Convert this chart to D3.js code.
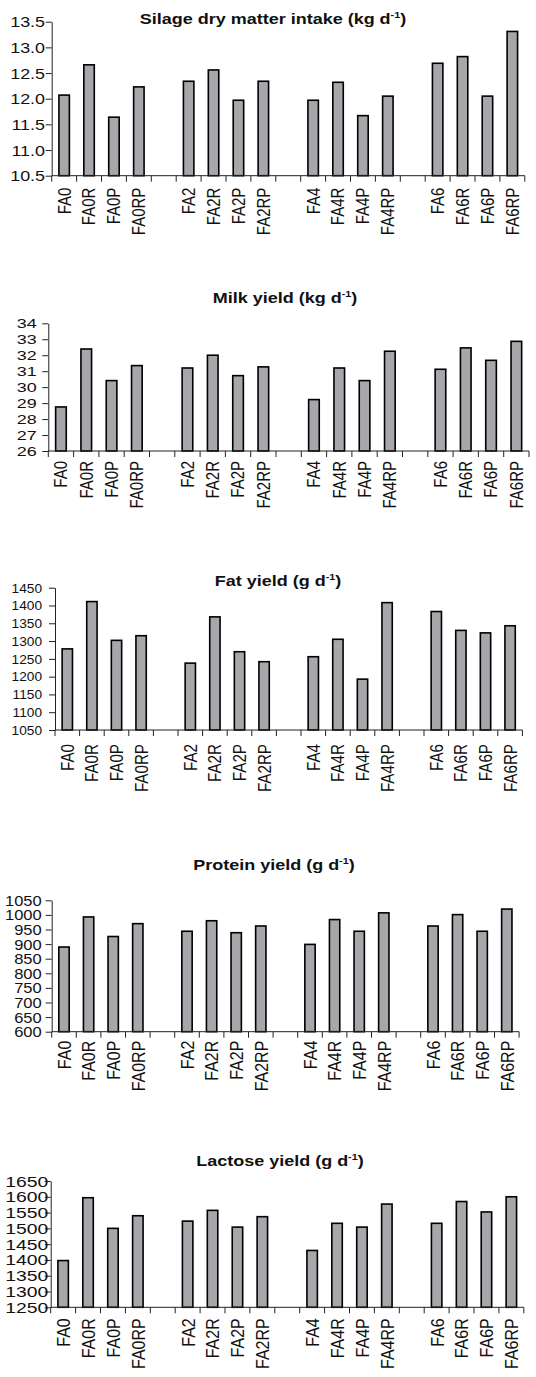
<!DOCTYPE html>
<html>
<head>
<meta charset="utf-8">
<script src="https://cdn.jsdelivr.net/npm/d3@7"></script>
<style>
  body { margin: 0; background: #fff; }
  svg { display: block; }
  text { font-family: "Liberation Sans", Arial, sans-serif; fill: #111; }
</style>
</head>
<body>
<svg id="chart" width="536" height="1377"></svg>
<script>
var categories = ["FA0", "FA0R", "FA0P", "FA0RP", "FA2", "FA2R", "FA2P", "FA2RP",
                  "FA4", "FA4R", "FA4P", "FA4RP", "FA6", "FA6R", "FA6P", "FA6RP"];

var silageIntake = [12.07, 12.66, 11.64, 12.23, 12.34, 12.56, 11.97, 12.34, 11.97, 12.32, 11.67, 12.05, 12.69, 12.82, 12.05, 13.31];
var silageTicks = [10.5, 11.0, 11.5, 12.0, 12.5, 13.0, 13.5];

var milkYield = [28.76, 32.39, 30.41, 31.35, 31.2, 32.0, 30.72, 31.27, 29.22, 31.2, 30.41, 32.25, 31.12, 32.46, 31.68, 32.87];
var milkTicks = [26, 27, 28, 29, 30, 31, 32, 33, 34];

var fatYield = [1278, 1411, 1302, 1315, 1238, 1368, 1270, 1242, 1256, 1305, 1193, 1408, 1383, 1330, 1323, 1343];
var fatTicks = [1050, 1100, 1150, 1200, 1250, 1300, 1350, 1400, 1450];

var proteinYield = [890, 993, 926, 970, 944, 980, 939, 962, 899, 984, 944, 1007, 962, 1001, 944, 1020];
var proteinTicks = [600, 650, 700, 750, 800, 850, 900, 950, 1000, 1050];

var lactoseYield = [1398, 1597, 1500, 1540, 1523, 1557, 1504, 1537, 1430, 1516, 1504, 1577, 1516, 1585, 1552, 1600];
var lactoseTicks = [1250, 1300, 1350, 1400, 1450, 1500, 1550, 1600, 1650];

// empty slot between each group of four treatments
var slots = [];
categories.forEach(function(c, i) {
  if (i > 0 && i % 4 == 0) slots.push("gap" + i);
  slots.push(c);
});

var panels = [
  {title: "Silage dry matter intake (kg d", values: silageIntake, ticks: silageTicks, fmt: ".1f",
   left: 51.7, slot: 24.9, top: 21.7, bottom: 175.7, titleX: 273, titleY: 24,
   tickFont: 14, tickStretch: 1.28, tickPad: 6.7, labelFont: 15, labelGap: 12},
  {title: "Milk yield (kg d", values: milkYield, ticks: milkTicks, fmt: "d",
   left: 48.3, slot: 25.3, top: 323.3, bottom: 451, titleX: 285, titleY: 303,
   tickFont: 13, tickStretch: 1.38, tickPad: 11.6, labelFont: 15, labelGap: 10},
  {title: "Fat yield (g d", values: fatYield, ticks: fatTicks, fmt: "d",
   left: 55, slot: 24.6, top: 587.7, bottom: 730, titleX: 278, titleY: 586,
   tickFont: 12, tickStretch: 1.14, tickPad: 13, labelFont: 15.2, labelGap: 14},
  {title: "Protein yield (g d", values: proteinYield, ticks: proteinTicks, fmt: "d",
   left: 51.7, slot: 24.6, top: 900.3, bottom: 1031.7, titleX: 274, titleY: 870,
   tickFont: 14, tickStretch: 1.18, tickPad: 10, labelFont: 16, labelGap: 9},
  {title: "Lactose yield (g d", values: lactoseYield, ticks: lactoseTicks, fmt: "d",
   left: 50.7, slot: 24.9, top: 1181, bottom: 1307.3, titleX: 280, titleY: 1166,
   tickFont: 14, tickStretch: 1.38, tickPad: 2.4, labelFont: 16, labelGap: 11}
];

var svg = d3.select("#chart");
var stretch = 1.2;

panels.forEach(function(p) {
  var g = svg.append("g");

  var x = d3.scaleBand()
      .domain(slots)
      .range([p.left, p.left + slots.length * p.slot])
      .padding(0);

  var y = d3.scaleLinear()
      .domain([p.ticks[0], p.ticks[p.ticks.length - 1]])
      .range([p.bottom, p.top]);

  // bars
  var bw = x.bandwidth() * 0.42;
  g.append("g")
    .selectAll("rect")
    .data(categories)
    .enter().append("rect")
      .attr("x", function(d) { return x(d) + (x.bandwidth() - bw) / 2; })
      .attr("y", function(d, i) { return y(p.values[i]); })
      .attr("width", bw)
      .attr("height", function(d, i) { return y(p.ticks[0]) - y(p.values[i]); })
      .attr("fill", "#a7a7ab")
      .attr("stroke", "#000")
      .attr("stroke-width", 1.6);

  // y axis
  var ya = g.append("g")
      .attr("transform", "translate(" + p.left + ",0)")
      .call(d3.axisLeft(y).tickValues(p.ticks).tickSize(6).tickSizeOuter(0)
              .tickFormat(d3.format(p.fmt)));
  ya.select(".domain").attr("stroke", "#222");
  ya.selectAll(".tick line").attr("stroke", "#222");
  ya.selectAll(".tick text")
      .attr("font-size", p.tickFont)
      .attr("font-family", null)
      .attr("fill", "#111")
      .attr("x", -p.tickPad / p.tickStretch)
      .attr("dy", "0.36em")
      .attr("transform", "scale(" + p.tickStretch + ",1)");

  // x axis with ticks at slot boundaries
  var xEnd = x.range()[1];
  g.append("line")
      .attr("x1", p.left).attr("x2", xEnd)
      .attr("y1", p.bottom).attr("y2", p.bottom)
      .attr("stroke", "#222");
  g.append("g")
    .selectAll("line")
    .data(slots.concat(["end"]))
    .enter().append("line")
      .attr("x1", function(d) { return d == "end" ? xEnd : x(d); })
      .attr("x2", function(d) { return d == "end" ? xEnd : x(d); })
      .attr("y1", p.bottom)
      .attr("y2", p.bottom + 6)
      .attr("stroke", "#222");

  g.append("g")
    .selectAll("text")
    .data(categories)
    .enter().append("text")
      .attr("transform", function(d) {
        var cx = x(d) + x.bandwidth() / 2 + 0.358 * p.labelFont * stretch;
        return "translate(" + cx + "," + (p.bottom + p.labelGap) + ") rotate(-90) scale(1," + stretch + ")";
      })
      .attr("text-anchor", "end")
      .attr("font-size", p.labelFont)
      .text(function(d) { return d; });

  // title
  var t = g.append("text")
      .attr("transform", "translate(" + p.titleX + "," + p.titleY + ") scale(" + stretch + ",1)")
      .attr("text-anchor", "middle")
      .attr("font-size", 15)
      .attr("font-weight", "bold");
  t.append("tspan").text(p.title);
  t.append("tspan").attr("font-size", 9).attr("dy", -6).text("-1");
  t.append("tspan").attr("dy", 6).text(")");
});
</script>
</body>
</html>
